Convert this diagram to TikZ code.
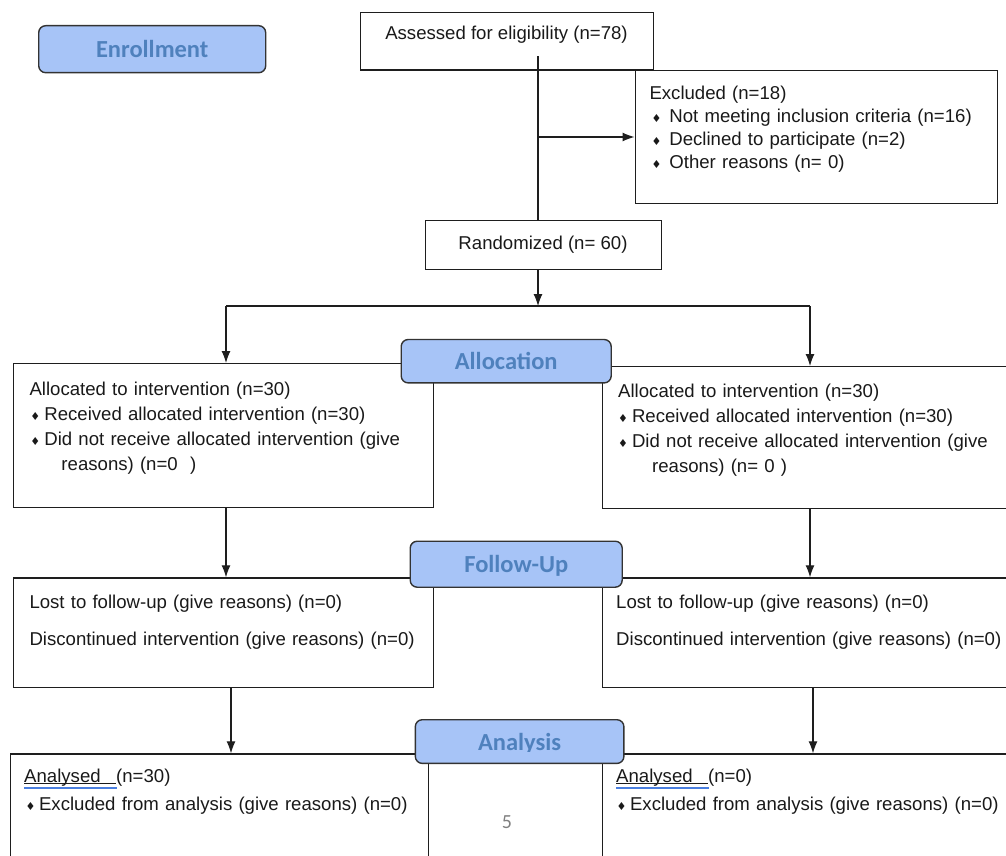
\documentclass[tikz,border=0pt]{standalone}
\usepackage{fontspec}
\setmainfont{Liberation Sans}
\newfontfamily\headfont{Carlito}
\newfontfamily\symfont{DejaVu Sans}
\usetikzlibrary{arrows.meta}
\definecolor{boxline}{HTML}{1E1E1E}
\definecolor{tabfill}{HTML}{A7C4F7}
\definecolor{tabtext}{HTML}{4F81BD}
\definecolor{spellblue}{HTML}{4A7FE0}
\newcommand{\bul}{{\symfont\fontsize{11pt}{11pt}\selectfont ♦}}
% underlined word with the blue spell-check line
\newcommand{\anl}{\rlap{\rule[-2pt]{92pt}{0.8pt}}\rlap{\textcolor{spellblue}{\rule[-6.5pt]{93pt}{2pt}}}Analysed\hspace{15.5pt}}

\begin{document}
\begin{tikzpicture}[x=1pt,y=-1pt,>={Latex[length=12pt,width=9pt]},
  box/.style={draw=boxline,line width=1.3pt,anchor=north west,inner sep=0pt},
  tab/.style={draw=black!80,line width=1.4pt,fill=tabfill,rounded corners=7pt,anchor=north west,inner sep=0pt,
    text=tabtext,text height=15.8pt,text depth=0pt,font=\headfont\bfseries\fontsize{24.5pt}{24.5pt}\selectfont},
  txt/.style={anchor=base,inner sep=0pt,text=black!90,font=\fontsize{18.6pt}{22pt}\selectfont},
  para/.style={anchor=base west,inner sep=0pt,text width=400pt,align=left,text=black!90,
    font=\fontsize{18.6pt}{25.3pt}\selectfont},
  link/.style={draw=boxline,line width=1.1pt}]
\useasboundingbox (0,0) rectangle (1006,856);
\clip (0,0) rectangle (1006,856);

% boxes
\node[box,minimum width=293pt,minimum height=57.5pt] (assess) at (360,12) {};
\node[box,minimum width=362pt,minimum height=133pt] (excl) at (634.5,70) {};
\node[box,minimum width=236pt,minimum height=49pt] (rand) at (425,220) {};
\node[box,minimum width=420pt,minimum height=143.5pt] (allocL) at (13,363) {};
\node[box,minimum width=420pt,minimum height=141.5pt] (allocR) at (602,366) {};
\node[box,minimum width=420pt,minimum height=109.4pt] (fupL) at (13,577.3) {};
\node[box,minimum width=420pt,minimum height=109.4pt] (fupR) at (602,577.3) {};
\node[box,minimum width=418pt,minimum height=130pt] (anaL) at (10,753.3) {};
\node[box,minimum width=420pt,minimum height=130pt] (anaR) at (602,753.3) {};

% texts
\node[txt] (assesstxt) at (506.5,40) {Assessed for eligibility (n=78)};
\node[para,font=\fontsize{18.6pt}{23pt}\selectfont] (excltxt) at (649.3,99.3) {Excluded (n=18)\\
  \hspace*{2pt}\bul\hspace{8pt}Not meeting inclusion criteria (n=16)\\
  \hspace*{2pt}\bul\hspace{8pt}Declined to participate (n=2)\\
  \hspace*{2pt}\bul\hspace{8pt}Other reasons (n= 0)};
\node[txt] (randtxt) at (543,249) {Randomized (n= 60)};
\node[para] (allocLtxt) at (29.3,395) {Allocated to intervention (n=30)\\
  \hspace*{1pt}\bul\hspace{4pt}Received allocated intervention (n=30)\\
  \hspace*{1pt}\bul\hspace{4pt}Did not receive allocated intervention (give\\[-0.8pt]
  \hspace*{32pt}reasons) (n=0\ \ )};
\node[para] (allocRtxt) at (618,397.3) {Allocated to intervention (n=30)\\
  \hspace*{0pt}\bul\hspace{4pt}Received allocated intervention (n=30)\\
  \hspace*{0pt}\bul\hspace{4pt}Did not receive allocated intervention (give\\[-0.8pt]
  \hspace*{34pt}reasons) (n= 0 )};
\node[para,font=\fontsize{18.6pt}{36.7pt}\selectfont] (fupLtxt) at (29.3,608.3) {Lost to follow-up (give reasons) (n=0)\\
  Discontinued intervention (give reasons) (n=0)};
\node[para,font=\fontsize{18.6pt}{36.7pt}\selectfont] (fupRtxt) at (616,608.3) {Lost to follow-up (give reasons) (n=0)\\
  Discontinued intervention (give reasons) (n=0)};
\node[para,font=\fontsize{18.6pt}{28.3pt}\selectfont] (anaLtxt) at (24,782) {\anl(n=30)\\
  \hspace*{1.5pt}\bul\hspace{3.5pt}Excluded from analysis (give reasons) (n=0)};
\node[para,font=\fontsize{18.6pt}{28.3pt}\selectfont] (anaRtxt) at (616,782) {\anl(n=0)\\
  \hspace*{0.5pt}\bul\hspace{3.5pt}Excluded from analysis (give reasons) (n=0)};
\node[anchor=base,inner sep=0pt,text=black!50,font=\headfont\fontsize{20pt}{20pt}\selectfont] (pagenum) at (507,828) {5};

% connectors
\coordinate (split) at (538,137);
\coordinate (fork) at (538,306);
\coordinate (forkL) at (226,306);
\coordinate (forkR) at (810,306);
\coordinate (dropL) at (231,700);
\coordinate (dropR) at (813,700);
\draw[link] ([yshift=14.5pt]assess.south -| split) -- (split |- rand.north);
\draw[link,->] (split) -- (split -| excl.west);
\draw[link,->] (rand.south -| split) -- (fork);
\draw[link] (forkL) -- (forkR);
\draw[link,->] (forkL) -- (forkL |- allocL.north);
\draw[link,->] (forkR) -- (forkR |- allocR.north);
\draw[link,->] (allocL.south -| forkL) -- (forkL |- fupL.north);
\draw[link,->] (allocR.south -| forkR) -- (forkR |- fupR.north);
\draw[link,->] (fupL.south -| dropL) -- (dropL |- anaL.north);
\draw[link,->] (fupR.south -| dropR) -- (dropR |- anaR.north);

% stage tabs
\node[tab,minimum width=227pt,minimum height=47pt] (enroll) at (38,25) {Enrollment};
\node[tab,minimum width=210pt,minimum height=43.4pt] (alloc) at (400.5,338.8) {Allocation};
\node[tab,minimum width=212pt,minimum height=46pt] (follow) at (409.5,540.5) {Follow-Up};
\node[tab,minimum width=208.6pt,minimum height=43.7pt] (analysis) at (414.6,719) {};
\begin{scope}
\clip (414.6,719) rectangle (623.2,751);
\node[tab,draw=none,fill=none,anchor=center] (analysistxt) at ([yshift=-1pt]analysis.center) {Analysis};
\end{scope}
\end{tikzpicture}
\end{document}
